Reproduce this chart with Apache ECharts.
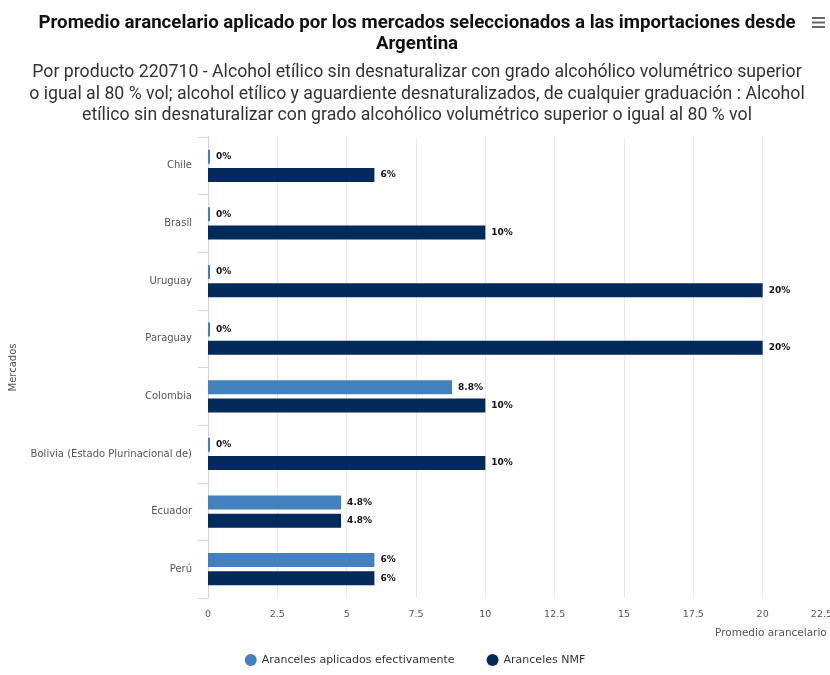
<!DOCTYPE html>
<html>
<head>
<meta charset="utf-8">
<script src="https://cdn.jsdelivr.net/npm/echarts@6/dist/echarts.min.js"></script>
<style>
  html, body { margin: 0; padding: 0; background: #ffffff; }
  #chart { width: 830px; height: 675px; }
</style>
</head>
<body>
<div id="chart"></div>
<script>
// Markets, top to bottom
const mercados = ['Chile', 'Brasil', 'Uruguay', 'Paraguay', 'Colombia', 'Bolivia (Estado Plurinacional de)', 'Ecuador', 'Perú'];
// Average tariff (%) per market
const aplicados = [0, 0, 0, 0, 8.8, 0, 4.8, 6];
const nmf = [6, 10, 20, 20, 10, 10, 4.8, 6];
// Value axis ticks
const ejeMin = 0;
const ejeMax = 22.5;
const ejePaso = 2.5;

const serieNombres = ['Aranceles aplicados efectivamente', 'Aranceles NMF'];
const colores = ['#4280c0', '#022a5a'];

const chart = echarts.init(document.getElementById('chart'));

const etiqueta = {
  show: true,
  position: 'right',
  distance: 6,
  color: '#111',
  fontFamily: 'DejaVu Sans',
  fontWeight: 'bold',
  fontSize: 9,
  formatter: p => p.value + '%'
};

chart.setOption({
  animation: false,
  backgroundColor: '#ffffff',
  title: [
    {
      text: 'Promedio arancelario aplicado por los mercados seleccionados a las importaciones desde\nArgentina',
      left: 412,
      top: 8,
      textAlign: 'center',
      textStyle: { fontFamily: 'Roboto', fontSize: 18.7, fontWeight: 'bold', color: '#111', lineHeight: 21 }
    },
    {
      text: 'Por producto 220710 - Alcohol etílico sin desnaturalizar con grado alcohólico volumétrico superior\no igual al 80 % vol; alcohol etílico y aguardiente desnaturalizados, de cualquier graduación : Alcohol\netílico sin desnaturalizar con grado alcohólico volumétrico superior o igual al 80 % vol',
      left: 412,
      top: 57,
      textAlign: 'center',
      textStyle: { fontFamily: 'Roboto', fontSize: 17.7, fontWeight: 'normal', color: '#333', lineHeight: 21.5 }
    }
  ],
  graphic: [
    {
      type: 'group', left: 812, top: 17,
      children: [
        { type: 'rect', shape: { x: 0, y: 0, width: 13, height: 2 }, style: { fill: '#666' } },
        { type: 'rect', shape: { x: 0, y: 4.5, width: 13, height: 2 }, style: { fill: '#666' } },
        { type: 'rect', shape: { x: 0, y: 9, width: 13, height: 2 }, style: { fill: '#666' } }
      ]
    }
  ],
  legend: {
    bottom: 4,
    left: 'center',
    icon: 'circle',
    itemWidth: 12,
    itemHeight: 12,
    itemGap: 32,
    textStyle: { fontFamily: 'DejaVu Sans', fontSize: 11, color: '#333' },
    data: serieNombres
  },
  grid: { left: 208, right: -2, top: 137, bottom: 77, containLabel: false, outerBoundsMode: 'none' },
  xAxis: {
    type: 'value',
    min: ejeMin,
    max: ejeMax,
    interval: ejePaso,
    name: 'Promedio arancelario',
    nameLocation: 'end',
    nameGap: -117,
    nameTextStyle: { fontFamily: 'DejaVu Sans', fontSize: 10.5, color: '#555', verticalAlign: 'top', padding: [30, 0, 0, 0] },
    axisLine: { show: false },
    axisTick: { show: false },
    axisLabel: { fontFamily: 'DejaVu Sans', fontSize: 9.5, color: '#555', margin: 12, showMaxLabel: true, alignMaxLabel: 'right' },
    splitLine: { show: true, lineStyle: { color: '#e9e9e9', width: 1 } }
  },
  yAxis: {
    type: 'category',
    inverse: true,
    data: mercados,
    name: 'Mercados',
    nameLocation: 'middle',
    nameGap: 190,
    nameTextStyle: { fontFamily: 'DejaVu Sans', fontSize: 10, color: '#555' },
    axisLine: { show: true, lineStyle: { color: '#ccd6eb', width: 1 } },
    axisTick: { show: true, length: 10, lineStyle: { color: '#ccd6eb' } },
    axisLabel: { fontFamily: 'DejaVu Sans', fontSize: 10, color: '#555', margin: 16 },
    splitLine: { show: false }
  },
  series: [
    {
      name: serieNombres[0],
      type: 'bar',
      data: aplicados,
      barWidth: 14,
      barGap: '30%',
      barMinHeight: 2,
      itemStyle: { color: colores[0] },
      label: etiqueta
    },
    {
      name: serieNombres[1],
      type: 'bar',
      data: nmf,
      barWidth: 14,
      barGap: '30%',
      itemStyle: { color: colores[1] },
      label: etiqueta
    }
  ]
});
</script>
</body>
</html>
